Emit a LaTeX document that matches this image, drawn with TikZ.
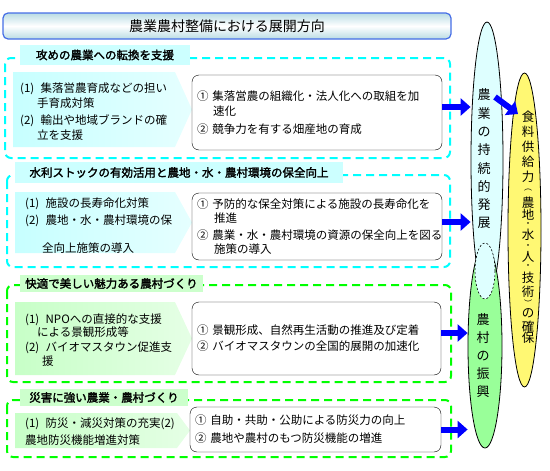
\documentclass[tikz,border=0pt]{standalone}
\usepackage{fontspec}
\setmainfont{Noto Sans CJK JP}[AutoFakeBold=2]
\usetikzlibrary{shapes.geometric, arrows.meta}

\definecolor{aqua}{RGB}{0,255,255}
\definecolor{lime}{RGB}{0,255,0}
\definecolor{pureblue}{RGB}{0,0,255}
\definecolor{titleline}{RGB}{70,110,230}
\definecolor{titleshade}{RGB}{185,220,228}

\newcommand{\itemno}[1]{(#1)\hspace{0.55em}}

\tikzset{
  secframe/.style={line width=2pt, dash pattern=on 8pt off 5pt, rounded corners=6pt},
  headbox/.style={inner sep=0pt, font=\bfseries\fontsize{11.5}{13}\selectfont},
  itemtext/.style={anchor=west, align=left, inner sep=0pt, font=\fontsize{11.5}{14.5}\selectfont},
  actbox/.style={draw, rounded corners=7pt, fill=white, align=left, inner xsep=5pt, inner ysep=0pt, font=\fontsize{11.5}{14.5}\selectfont},
  goal/.style={ellipse, draw, line width=0.8pt, inner sep=0pt},
  vtext/.style={align=center, inner sep=0pt, font=\fontsize{13}{18.3}\selectfont},
  bluearrow/.style={draw=pureblue, line width=6pt, -{Triangle[length=10pt, width=17pt]}}
}

\begin{document}
\begin{tikzpicture}[x=1pt, y=-1pt]
    \useasboundingbox (0,0) rectangle (550,471);

    % 1. Title bar
    \node[draw=titleline, line width=1.2pt, rounded corners=5pt, top color=titleshade, bottom color=titleshade, middle color=white,
          minimum width=448pt, minimum height=26pt, font=\fontsize{14}{16}\selectfont] (title) at (227,26) {農業農村整備における展開方向};

    % 2. Dashed section frames
    \draw[secframe, aqua] (5,58) rectangle (450,158);
    \draw[secframe, aqua] (7,175) rectangle (450,267);
    \draw[secframe, lime] (7,285) rectangle (451,382);
    \draw[secframe, lime] (7,400) rectangle (451,457);

    % 3. Section headings
    \node[headbox, fill=aqua!20, minimum width=170pt, minimum height=20pt] (head1) at (105,55) {攻めの農業への転換を支援};
    \node[headbox, fill=aqua!20, minimum width=328pt, minimum height=21pt] (head2) at (179,172.5) {水利ストックの有効活用と農地・水・農村環境の保全向上};
    \node[headbox, fill=lime!20, minimum width=183pt, minimum height=17pt] (head3) at (111.5,283.5) {快適で美しい魅力ある農村づくり};
    \node[headbox, fill=lime!20, minimum width=168pt, minimum height=17pt] (head4) at (104,397.5) {災害に強い農業・農村づくり};

    % 4. Measures (pointed panels on the left)
    \shade[left color=aqua!22, right color=aqua!10] (13,72) -- (175,72) -- (192,109.5) -- (175,147) -- (13,147) -- cycle;
    \shade[left color=aqua!22, right color=aqua!10] (15,192) -- (175,192) -- (192,222.5) -- (175,253) -- (15,253) -- cycle;
    \shade[left color=lime!22, right color=lime!10] (15,302) -- (175,302) -- (192,338.5) -- (175,375) -- (15,375) -- cycle;
    \shade[left color=lime!22, right color=lime!10] (15,413) -- (177,413) -- (190,430.5) -- (177,448) -- (15,448) -- cycle;

    \node[itemtext] (mea1) at (20,111.5) {\itemno{1}集落営農育成などの担い\\[0.5pt]\hspace*{17pt}手育成対策\\[2.5pt]\itemno{2}輸出や地域ブランドの確\\[0.5pt]\hspace*{17pt}立を支援};
    \node[itemtext] (mea2) at (25,225.5) {\itemno{1}施設の長寿命化対策\\[2.5pt]\itemno{2}農地・水・農村環境の保\\[13.5pt]\hspace*{17pt}全向上施策の導入};
    \node[itemtext] (mea3) at (25,340) {\itemno{1}NPOへの直接的な支援\\[-1pt]\hspace*{12pt}による景観形成等\\[0.5pt]\itemno{2}バイオマスタウン促進支\\[-0.5pt]\hspace*{17pt}援};
    \node[itemtext] (mea4) at (25,431.5) {\itemno{1}防災・減災対策の充実(2)\\[2.5pt]農地防災機能増進対策};

    % 5. Actions (rounded boxes)
    \node[actbox, text width=240pt, minimum height=75pt] (act1) at (317,112.5) {①~集落営農の組織化・法人化への取組を加\\\hspace*{16pt}速化\\[3.5pt]②~競争力を有する畑産地の育成};
    \node[actbox, text width=240pt, minimum height=67pt] (act2) at (317,226.5) {①~予防的な保全対策による施設の長寿命化を\\[-0.5pt]\hspace*{17pt}推進\\[2.5pt]②~農業・水・農村環境の資源の保全向上を図る\\[-0.5pt]\hspace*{17pt}施策の導入};
    \node[actbox, text width=239pt, minimum height=73pt] (act3) at (316.5,338.5) {①~景観形成、自然再生活動の推進及び定着\\[1.5pt]②~バイオマスタウンの全国的展開の加速化};
    \node[actbox, text width=241pt, minimum height=45pt] (act4) at (315.5,429.5) {①~自助・共助・公助による防災力の向上\\[3.5pt]②~農地や農村のもつ防災機能の増進};

    % 6. Goals (tall ellipses)
    \node[goal, fill=aqua!13, minimum width=32pt, minimum height=276pt] (agri) at (487,160) {};
    \node[goal, fill=lime!40, minimum width=34pt, minimum height=204pt] (rural) at (485,346) {};
    \node[goal, dashed, dash pattern=on 2pt off 2pt, line width=0.6pt, fill=aqua!13, minimum width=20pt, minimum height=56pt] (overlap) at (485,271) {};
    \node[goal, fill=yellow!55, minimum width=33pt, minimum height=314pt] (food) at (524.5,230) {};

    \node[vtext] (agritext) at (484,159) {農\\業\\の\\持\\続\\的\\発\\展};
    \node[vtext, font=\fontsize{13}{18}\selectfont] (ruraltext) at (483,356) {農\\村\\の\\振\\興};
    % vertical text of the third goal: characters, then the small marks
    \foreach \ch/\yy in {食/117, 料/132, 供/147, 給/162, 力/177, 農/203, 地/215, 水/235, 人/257, 技/278, 術/292, の/313, 確/327, 保/338}
        \node[inner sep=0pt, font=\fontsize{12.5}{12.5}\selectfont] (fc\yy) at (528,\yy) {\ch};
    \foreach \ch/\yy in {︵/190, ・/225, ・/247, ・/267, ︶/303}
        \node[inner sep=0pt, font=\fontsize{8}{8}\selectfont] (fm\yy) at (528,\yy) {\ch};

    % 7. Blue arrows
    \coordinate (s1) at ([yshift=5.5pt]act1.east);
    \coordinate (s2) at ([yshift=4.5pt]act2.east);
    \coordinate (s3) at ([yshift=5.5pt]act3.east);
    \coordinate (s4) at (act4.east);
    \draw[bluearrow] (s1) -- (s1 -| agri.west);
    \draw[bluearrow] (s2) -- (s2 -| agri.west);
    \draw[bluearrow] (s3) -- (s3 -| rural.west);
    \draw[bluearrow] (s4) -- (s4 -| rural.west);

    \coordinate (dstart) at (495,97);
    \coordinate (dend) at (518,114);
    \draw[bluearrow] (dstart) -- (dend);

\end{tikzpicture}
\end{document}
